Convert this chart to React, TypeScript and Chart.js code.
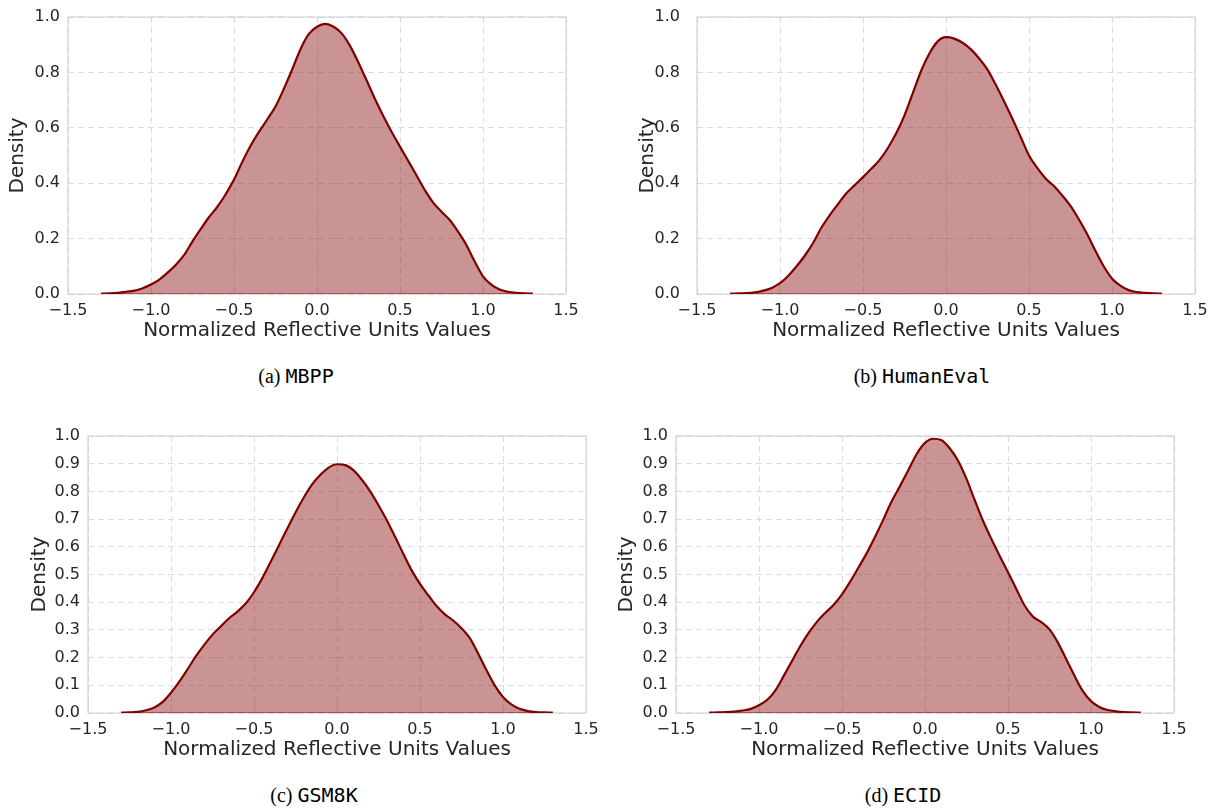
import React, { useEffect, useRef } from "react";
import { Chart, registerables } from "chart.js";
Chart.register(...registerables);

// ---------- data ----------
const X_VALUES = [
  -1.3, -1.25, -1.2, -1.15, -1.1, -1.05, -1.0, -0.95, -0.9, -0.85, -0.8, -0.75, -0.7, -0.65, -0.6, -0.55, -0.5,
  -0.45, -0.4, -0.35, -0.3, -0.25, -0.2, -0.15, -0.1, -0.05, 0.0, 0.05, 0.1, 0.15, 0.2, 0.25, 0.3, 0.35, 0.4,
  0.45, 0.5, 0.55, 0.6, 0.65, 0.7, 0.75, 0.8, 0.85, 0.9, 0.95, 1.0, 1.05, 1.1, 1.15, 1.2, 1.25, 1.3,
];

const MBPP_DENSITY = [
  0.001, 0.002, 0.004, 0.008, 0.012, 0.021, 0.034, 0.052, 0.077, 0.106, 0.141, 0.19, 0.235, 0.278, 0.315, 0.36, 0.413,
  0.477, 0.535, 0.585, 0.63, 0.677, 0.74, 0.81, 0.883, 0.938, 0.965, 0.975, 0.965, 0.94, 0.895, 0.835, 0.77, 0.703, 0.642,
  0.585, 0.532, 0.48, 0.428, 0.375, 0.33, 0.297, 0.267, 0.225, 0.177, 0.117, 0.064, 0.034, 0.016, 0.008, 0.004, 0.002, 0.001,
];

const HUMANEVAL_DENSITY = [
  0.001, 0.002, 0.003, 0.006, 0.012, 0.022, 0.039, 0.066, 0.1, 0.139, 0.185, 0.24, 0.285, 0.325, 0.364, 0.393, 0.422,
  0.452, 0.484, 0.527, 0.58, 0.645, 0.725, 0.805, 0.868, 0.912, 0.927, 0.922, 0.907, 0.883, 0.85, 0.81, 0.755, 0.695, 0.633,
  0.567, 0.5, 0.455, 0.417, 0.39, 0.356, 0.318, 0.27, 0.217, 0.156, 0.1, 0.056, 0.03, 0.014, 0.007, 0.004, 0.002, 0.001,
];

const GSM8K_DENSITY = [
  0.001, 0.002, 0.004, 0.01, 0.02, 0.04, 0.073, 0.113, 0.158, 0.205, 0.246, 0.283, 0.313, 0.342, 0.366, 0.395, 0.436,
  0.487, 0.545, 0.605, 0.665, 0.724, 0.778, 0.825, 0.86, 0.886, 0.898, 0.895, 0.876, 0.842, 0.8, 0.75, 0.696, 0.636, 0.574,
  0.515, 0.466, 0.425, 0.386, 0.356, 0.334, 0.306, 0.27, 0.215, 0.155, 0.1, 0.058, 0.031, 0.015, 0.007, 0.003, 0.002, 0.001,
];

const ECID_DENSITY = [
  0.001, 0.002, 0.003, 0.005, 0.009, 0.015, 0.028, 0.048, 0.083, 0.135, 0.189, 0.243, 0.29, 0.33, 0.362, 0.391, 0.428,
  0.475, 0.526, 0.578, 0.637, 0.7, 0.765, 0.82, 0.877, 0.935, 0.975, 0.99, 0.985, 0.955, 0.91, 0.845, 0.768, 0.693, 0.628,
  0.567, 0.508, 0.448, 0.388, 0.348, 0.328, 0.302, 0.255, 0.195, 0.135, 0.08, 0.043, 0.022, 0.011, 0.006, 0.003, 0.002, 0.001,
];

const X_TICKS = [-1.5, -1.0, -0.5, 0.0, 0.5, 1.0, 1.5];
const Y_TICKS_COARSE = [0.0, 0.2, 0.4, 0.6, 0.8, 1.0];
const Y_TICKS_FINE = [0.0, 0.1, 0.2, 0.3, 0.4, 0.5, 0.6, 0.7, 0.8, 0.9, 1.0];

const PANEL_LETTERS = ["(a)", "(b)", "(c)", "(d)"];
const DATASET_NAMES = ["MBPP", "HumanEval", "GSM8K", "ECID"];
const X_TITLE = "Normalized Reflective Units Values";
const Y_TITLE = "Density";

// ---------- layout (page coordinates) ----------
type Layout = {
  cl: number; ct: number; cw: number; ch: number;
  pl: number; pt: number; pr: number; pb: number;
  yTitleX: number; xTitleY: number; yTickPad: number; xTickPad: number;
  capX: number; capY: number;
};

const LAYOUTS: Layout[] = [
  { cl: 0, ct: 0, cw: 600, ch: 345, pl: 68, pt: 17, pr: 566, pb: 294, yTitleX: 18, xTitleY: 331, yTickPad: 8, xTickPad: 7, capX: 296, capY: 377 },
  { cl: 612, ct: 0, cw: 600, ch: 345, pl: 697, pt: 17, pr: 1195, pb: 294, yTitleX: 647.5, xTitleY: 331, yTickPad: 17, xTickPad: 7, capX: 922, capY: 377 },
  { cl: 0, ct: 400, cw: 598, ch: 364, pl: 88, pt: 436, pr: 586, pb: 713, yTitleX: 39.5, xTitleY: 750, yTickPad: 8, xTickPad: 7, capX: 314, capY: 796 },
  { cl: 600, ct: 400, cw: 600, ch: 364, pl: 676, pt: 436, pr: 1174, pb: 713, yTitleX: 627, xTitleY: 750, yTickPad: 8, xTickPad: 7, capX: 903, capY: 796 },
];

const SERIES = [MBPP_DENSITY, HUMANEVAL_DENSITY, GSM8K_DENSITY, ECID_DENSITY];
const Y_TICK_SETS = [Y_TICKS_COARSE, Y_TICKS_COARSE, Y_TICKS_FINE, Y_TICKS_FINE];

const LINE_COLOR = "#800000";
const FILL_COLOR = "rgba(128,0,0,0.42)";
const TEXT_COLOR = "#262626";
const GRID_COLOR = "#dcdcdc";
const FRAME_COLOR = "#cccccc";
const SANS = '"DejaVu Sans", sans-serif';

const framePlugin = {
  id: "frame",
  beforeDatasetsDraw(chart: any) {
    const { ctx, chartArea } = chart;
    ctx.save();
    ctx.strokeStyle = FRAME_COLOR;
    ctx.lineWidth = 1;
    ctx.strokeRect(chartArea.left, chartArea.top, chartArea.right - chartArea.left, chartArea.bottom - chartArea.top);
    ctx.restore();
  },
};

function fmt(v: number) {
  return v.toFixed(1).replace("-", "\u2212");
}

function Panel({ index }: { index: number }) {
  const ref = useRef<HTMLCanvasElement | null>(null);
  const L = LAYOUTS[index];

  useEffect(() => {
    if (!ref.current) return;
    const values = SERIES[index];
    const yTicks = Y_TICK_SETS[index];
    const chart = new Chart(ref.current, {
      type: "line",
      data: {
        datasets: [
          {
            data: X_VALUES.map((x, i) => ({ x, y: values[i] })),
            borderColor: LINE_COLOR,
            borderWidth: 2.2,
            backgroundColor: FILL_COLOR,
            fill: "origin",
            pointRadius: 0,
            cubicInterpolationMode: "monotone",
          },
          {
            data: [
              { x: X_VALUES[0], y: 0 },
              { x: X_VALUES[X_VALUES.length - 1], y: 0 },
            ],
            borderColor: "rgba(128,0,0,0.75)",
            borderWidth: 1.2,
            pointRadius: 0,
            fill: false,
          },
        ],
      },
      options: {
        responsive: false,
        animation: false,
        devicePixelRatio: 1,
        layout: {
          padding: { left: 0, top: L.pt - L.ct, right: L.cl + L.cw - L.pr, bottom: 0 },
        },
        plugins: { legend: { display: false }, tooltip: { enabled: false } },
        scales: {
          x: {
            type: "linear",
            min: X_TICKS[0],
            max: X_TICKS[X_TICKS.length - 1],
            afterFit: (s: any) => {
              s.height = L.ct + L.ch - L.pb;
              s.paddingLeft = 0;
              s.paddingRight = 0;
            },
            afterBuildTicks: (s: any) => {
              s.ticks = X_TICKS.map((v) => ({ value: v }));
            },
            ticks: {
              callback: (v: any) => fmt(Number(v)),
              color: TEXT_COLOR,
              font: { family: SANS, size: 16 },
              padding: L.xTickPad,
              maxRotation: 0,
              autoSkip: false,
            },
            grid: { color: GRID_COLOR, lineWidth: 1, drawTicks: false },
            border: { display: false, dash: [6, 4] },
            title: {
              display: true,
              text: X_TITLE,
              color: TEXT_COLOR,
              font: { family: SANS, size: 20 },
              padding: { top: 0, bottom: L.ct + L.ch - L.xTitleY - 12 },
            },
          },
          y: {
            type: "linear",
            min: yTicks[0],
            max: yTicks[yTicks.length - 1],
            afterFit: (s: any) => {
              s.width = L.pl - L.cl;
              s.paddingTop = 0;
              s.paddingBottom = 0;
            },
            afterBuildTicks: (s: any) => {
              s.ticks = yTicks.map((v) => ({ value: v }));
            },
            ticks: {
              callback: (v: any) => fmt(Number(v)),
              color: TEXT_COLOR,
              font: { family: SANS, size: 16 },
              padding: L.yTickPad,
              autoSkip: false,
            },
            grid: { color: GRID_COLOR, lineWidth: 1, drawTicks: false },
            border: { display: false, dash: [6, 4] },
            title: {
              display: true,
              text: Y_TITLE,
              color: TEXT_COLOR,
              font: { family: SANS, size: 20 },
              padding: { top: L.yTitleX - L.cl - 12, bottom: 0 },
            },
          },
        },
      },
      plugins: [framePlugin],
    } as any);
    return () => chart.destroy();
  }, [index]);

  return (
    <>
      <div style={{ position: "absolute", left: L.cl, top: L.ct, width: L.cw, height: L.ch }}>
        <canvas ref={ref} width={L.cw} height={L.ch} style={{ display: "block", width: L.cw, height: L.ch }} />
      </div>
      <div
        style={{
          position: "absolute",
          left: L.capX - 200,
          top: L.capY - 13,
          width: 400,
          textAlign: "center",
          fontFamily: '"Liberation Serif", "Times New Roman", serif',
          fontSize: 20,
          lineHeight: "24px",
          color: "#000",
          whiteSpace: "nowrap",
        }}
      >
        {PANEL_LETTERS[index]}{" "}
        <span style={{ fontFamily: '"DejaVu Sans Mono", monospace', fontSize: 20 }}>{DATASET_NAMES[index]}</span>
      </div>
    </>
  );
}

export default function App() {
  return (
    <div style={{ position: "absolute", left: 0, top: 0, width: 1217, height: 809, background: "#fff", overflow: "hidden" }}>
      {LAYOUTS.map((_, i) => (
        <Panel key={i} index={i} />
      ))}
    </div>
  );
}
